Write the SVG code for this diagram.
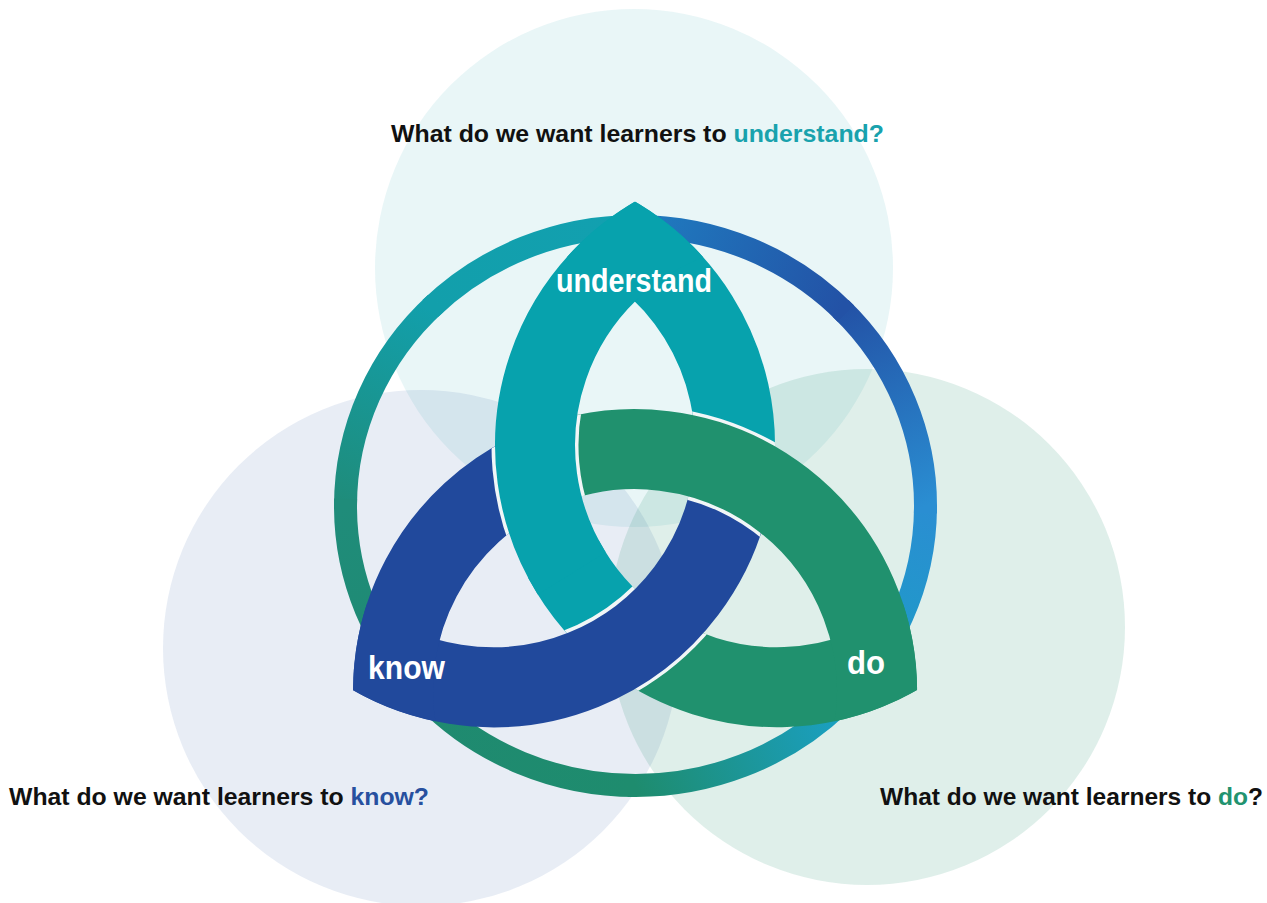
<svg xmlns="http://www.w3.org/2000/svg" width="1267" height="903" viewBox="0 0 1267 903">
<defs>
<style>
.q { font-family: "Liberation Sans", Arial, sans-serif; font-weight: 700; font-size: 24.5px; fill: #111111; }
.lbl { font-family: "Liberation Sans", Arial, sans-serif; font-weight: 700; font-size: 34px; fill: #ffffff; }
.band { fill: none; stroke-width: 80; stroke-linecap: butt; }
.teal { stroke: #07a2ad; }
.blue { stroke: #21499c; }
.green { stroke: #20916e; }
.halo { fill: none; stroke: #f1f6f7; stroke-width: 87; stroke-linecap: butt; }
.ring { fill: none; stroke-width: 23; stroke-linecap: butt; }
</style>
<clipPath id="d1"><circle cx="635" cy="691.2" r="282"/></clipPath>
<clipPath id="d2"><circle cx="493" cy="445.2" r="282"/></clipPath>
<clipPath id="d3"><circle cx="777" cy="445.2" r="282"/></clipPath>
<clipPath id="a1"><path clip-rule="evenodd" d="M353 691.2a282 282 0 1 0 564 0a282 282 0 1 0 -564 0ZM433 691.2a202 202 0 1 0 404 0a202 202 0 1 0 -404 0Z"/></clipPath>
<clipPath id="a2"><path clip-rule="evenodd" d="M211 445.2a282 282 0 1 0 564 0a282 282 0 1 0 -564 0ZM291 445.2a202 202 0 1 0 404 0a202 202 0 1 0 -404 0Z"/></clipPath>
<clipPath id="a3"><path clip-rule="evenodd" d="M495 445.2a282 282 0 1 0 564 0a282 282 0 1 0 -564 0ZM575 445.2a202 202 0 1 0 404 0a202 202 0 1 0 -404 0Z"/></clipPath>
<linearGradient id="g1" gradientUnits="userSpaceOnUse" x1="635.5" y1="226.5" x2="840.6" y2="308.4"><stop offset="0" stop-color="#1f7cc0"/><stop offset="1" stop-color="#2352a6"/></linearGradient>
<linearGradient id="g2" gradientUnits="userSpaceOnUse" x1="840.6" y1="308.4" x2="925.5" y2="506"><stop offset="0" stop-color="#2352a6"/><stop offset="1" stop-color="#2a8ed2"/></linearGradient>
<linearGradient id="g3" gradientUnits="userSpaceOnUse" x1="925.5" y1="506" x2="840.6" y2="703.6"><stop offset="0" stop-color="#2a8ed2"/><stop offset="1" stop-color="#1aa0c4"/></linearGradient>
<linearGradient id="g4" gradientUnits="userSpaceOnUse" x1="840.6" y1="703.6" x2="635.5" y2="785.5"><stop offset="0" stop-color="#1aa0c4"/><stop offset="1" stop-color="#1e8c6e"/></linearGradient>
<linearGradient id="g5" gradientUnits="userSpaceOnUse" x1="635.5" y1="785.5" x2="430.4" y2="703.6"><stop offset="0" stop-color="#1e8c6e"/><stop offset="1" stop-color="#1f8a70"/></linearGradient>
<linearGradient id="g6" gradientUnits="userSpaceOnUse" x1="430.4" y1="703.6" x2="345.5" y2="506"><stop offset="0" stop-color="#1f8a70"/><stop offset="1" stop-color="#1f8c7a"/></linearGradient>
<linearGradient id="g7" gradientUnits="userSpaceOnUse" x1="345.5" y1="506" x2="430.4" y2="308.4"><stop offset="0" stop-color="#1f8c7a"/><stop offset="1" stop-color="#129fab"/></linearGradient>
<linearGradient id="g8" gradientUnits="userSpaceOnUse" x1="430.4" y1="308.4" x2="635.5" y2="226.5"><stop offset="0" stop-color="#129fab"/><stop offset="1" stop-color="#12a0b0"/></linearGradient>
</defs>

<rect width="1267" height="903" fill="#ffffff"/>

<g id="venn">
<circle id="circle-understand" cx="634" cy="268" r="259" fill="#0e9aa7" fill-opacity="0.09"/>
<circle id="circle-know" cx="421" cy="648" r="258" fill="#1f4aa0" fill-opacity="0.1"/>
<circle id="circle-do" cx="867" cy="627" r="258" fill="#1e8c68" fill-opacity="0.14"/>
</g>

<g id="connectors">
<g id="ring">
<path class="ring" stroke="url(#g8)" d="M430.4 308.4A290 279.5 0 0 1 635.5 226.5"/>
<path class="ring" stroke="url(#g7)" d="M345.5 506A290 279.5 0 0 1 435.9 303.2"/>
<path class="ring" stroke="url(#g6)" d="M430.4 703.6A290 279.5 0 0 1 345.6 498.7"/>
<path class="ring" stroke="url(#g5)" d="M635.5 785.5A290 279.5 0 0 1 425.1 698.4"/>
<path class="ring" stroke="url(#g4)" d="M840.6 703.6A290 279.5 0 0 1 627.9 785.4"/>
<path class="ring" stroke="url(#g3)" d="M925.5 506A290 279.5 0 0 1 835.1 708.8"/>
<path class="ring" stroke="url(#g2)" d="M840.6 308.4A290 279.5 0 0 1 925.4 513.3"/>
<path class="ring" stroke="url(#g1)" d="M635.5 226.5A290 279.5 0 0 1 845.9 313.6"/>
</g>
</g>

<g id="knot">
<path class="band teal" d="M563.3 558.8A242 242 0 0 0 635 641.2"/>
<path class="band green" clip-path="url(#d1)" d="M635 641.2A242 242 0 0 0 932.6 630.6"/>
<path class="halo" clip-path="url(#a3)" d="M691.2 584A242 242 0 0 1 555.6 679"/>
<path class="band teal" clip-path="url(#d3)" d="M575.8 217.8A242 242 0 0 1 733.7 470.2"/>
<path class="band blue" clip-path="url(#d1)" d="M733.7 470.2A242 242 0 0 1 337.4 630.6"/>
<path class="halo" clip-path="url(#a2)" d="M656.1 450.1A242 242 0 0 1 806.1 520.1"/>
<path class="band blue" clip-path="url(#d2)" d="M396.7 733.2A242 242 0 0 1 536.3 470.2"/>
<path class="band green" clip-path="url(#d3)" d="M536.3 470.2A242 242 0 0 1 873.3 733.2"/>
<path class="halo" clip-path="url(#a1)" d="M543.2 382.6A242 242 0 0 0 557.7 547.5"/>
<path class="band teal" clip-path="url(#d2)" d="M694.2 217.8A242 242 0 0 0 571.8 573.4"/>
</g>

<g id="node-understand">
<text class="lbl" x="634" y="292" text-anchor="middle" textLength="156" lengthAdjust="spacingAndGlyphs">understand</text>
</g>
<g id="node-know">
<text class="lbl" x="368" y="679" textLength="77" lengthAdjust="spacingAndGlyphs">know</text>
</g>
<g id="node-do">
<text class="lbl" x="847" y="674" textLength="38" lengthAdjust="spacingAndGlyphs">do</text>
</g>

<g id="question-understand">
<text class="q" x="391" y="142" textLength="493" lengthAdjust="spacingAndGlyphs">What do we want learners to <tspan fill="#19a2ad">understand?</tspan></text>
</g>
<g id="question-know">
<text class="q" x="9" y="805" textLength="420" lengthAdjust="spacingAndGlyphs">What do we want learners to <tspan fill="#27509f">know?</tspan></text>
</g>
<g id="question-do">
<text class="q" x="880" y="805" textLength="383" lengthAdjust="spacingAndGlyphs">What do we want learners to <tspan fill="#22936f">do</tspan>?</text>
</g>
</svg>
